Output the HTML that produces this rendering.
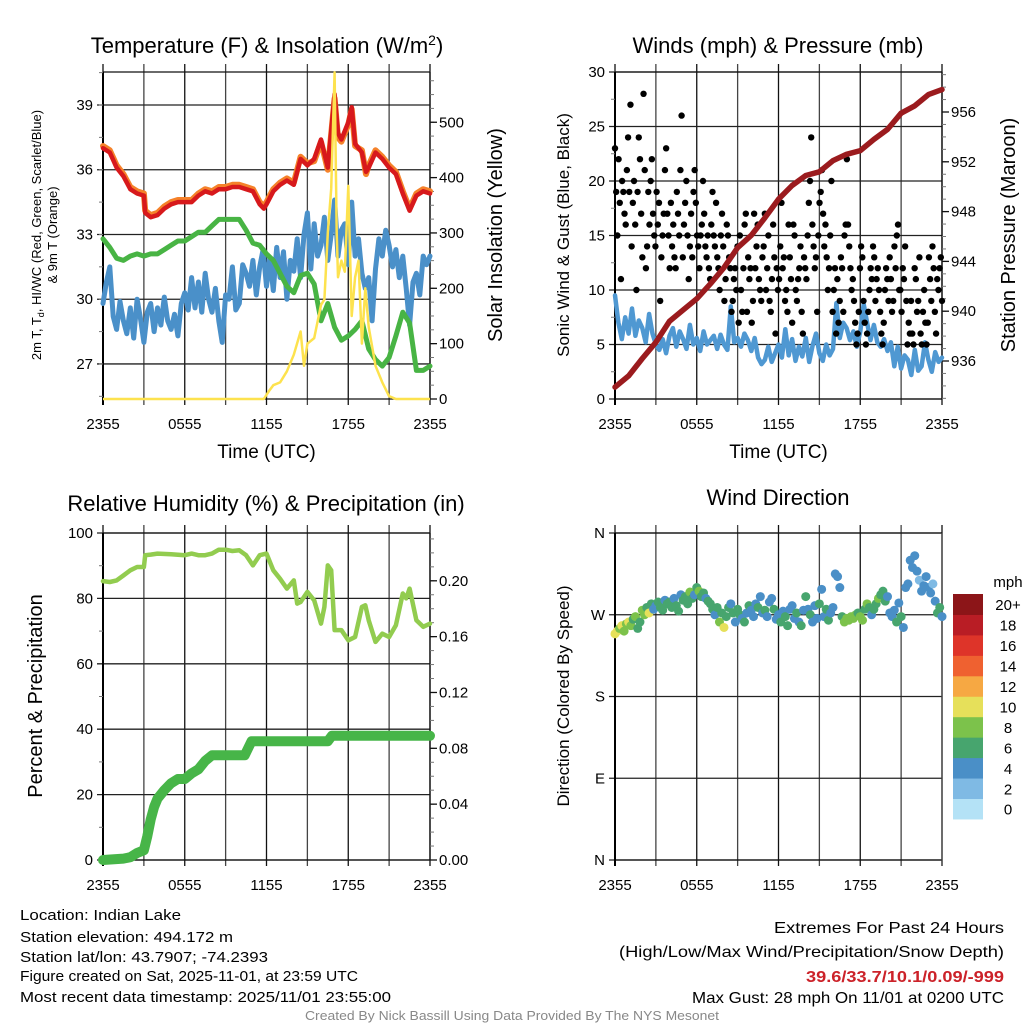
<!DOCTYPE html>
<html><head><meta charset="utf-8"><style>
html,body{margin:0;padding:0;background:#fff;}
svg{display:block;font-family:"Liberation Sans",sans-serif;}
</style></head><body>
<svg id="fig" width="1024" height="1024" viewBox="0 0 1024 1024">
<g id="g-tl"></g>
<g id="g-tr"></g>
<g id="g-bl"></g>
<g id="g-br"></g>
<text x="267" y="53" font-size="22" text-anchor="middle">Temperature (F) &amp; Insolation (W/m<tspan dy="-8" font-size="14">2</tspan><tspan dy="8">)</tspan></text>
<text x="778" y="53" font-size="22" text-anchor="middle">Winds (mph) &amp; Pressure (mb)</text>
<text x="266" y="511" font-size="22" text-anchor="middle">Relative Humidity (%) &amp; Precipitation (in)</text>
<text x="778" y="505" font-size="22" text-anchor="middle">Wind Direction</text>
<g font-size="15">
<text x="20" y="920" textLength="161" lengthAdjust="spacingAndGlyphs">Location: Indian Lake</text>
<text x="20" y="942" textLength="213" lengthAdjust="spacingAndGlyphs">Station elevation: 494.172 m</text>
<text x="20" y="962" textLength="248" lengthAdjust="spacingAndGlyphs">Station lat/lon: 43.7907; -74.2393</text>
<text x="20" y="981" textLength="338" lengthAdjust="spacingAndGlyphs">Figure created on Sat, 2025-11-01, at 23:59 UTC</text>
<text x="20" y="1002" textLength="371" lengthAdjust="spacingAndGlyphs">Most recent data timestamp: 2025/11/01 23:55:00</text>
</g>
<g font-size="16" text-anchor="end">
<text x="1004" y="933" textLength="230" lengthAdjust="spacingAndGlyphs">Extremes For Past 24 Hours</text>
<text x="1004" y="957" textLength="385" lengthAdjust="spacingAndGlyphs">(High/Low/Max Wind/Precipitation/Snow Depth)</text>
<text x="1004" y="982" font-weight="bold" fill="#cc2229" textLength="198" lengthAdjust="spacingAndGlyphs">39.6/33.7/10.1/0.09/-999</text>
<text x="1004" y="1003" textLength="312" lengthAdjust="spacingAndGlyphs">Max Gust: 28 mph On 11/01 at 0200 UTC</text>
</g>
<text x="512" y="1020" font-size="13" fill="#888" text-anchor="middle" textLength="414" lengthAdjust="spacingAndGlyphs">Created By Nick Bassill Using Data Provided By The NYS Mesonet</text>
</svg>
<script>
// ---- data ----
const timeTicks = [0,6,12,18,24];
const timeTickLabels = ["2355","0555","1155","1755","2355"];
const tempHours = [0,0.5,1,1.5,2,2.5,3,3.1,3.5,4,4.5,5,5.5,6,6.5,7,7.5,8,8.5,9,9.5,10,10.5,11,11.5,11.8,12,12.5,13,13.5,14,14.5,15,15.5,16,16.5,17,17.25,17.5,18,18.25,18.5,19,19.3,19.5,20,20.5,21,21.5,22,22.5,23,23.5,24];
const tempVals = [37.0,36.8,36.1,35.7,35.1,34.9,34.8,34.0,33.8,33.9,34.2,34.4,34.5,34.5,34.5,34.8,35.0,34.9,35.1,35.1,35.2,35.2,35.1,35.0,34.4,34.2,34.4,35.0,35.3,35.5,35.3,36.5,36.2,36.5,37.4,36.1,39.5,37.7,37.4,38.2,38.9,37.2,36.8,35.9,36.1,36.8,36.5,36.1,35.8,34.9,34.1,34.8,35.0,34.9];
const temp9mVals = [37.1,36.9,36.2,35.8,35.2,35.0,34.9,34.1,33.9,34.0,34.3,34.5,34.6,34.6,34.6,34.9,35.1,35.0,35.2,35.2,35.3,35.3,35.2,35.1,34.5,34.3,34.5,35.1,35.4,35.6,35.4,36.6,36.3,36.4,37.3,36.0,39.3,37.5,37.3,38.1,38.8,37.1,36.9,35.8,36.2,36.9,36.6,36.2,35.9,35.0,34.2,34.9,35.1,35.0];
const dewHours = [0,0.5,1,1.5,2,2.5,3,3.5,4,4.5,5,5.5,6,6.5,7,7.5,8,8.5,9,9.5,10,10.5,11,11.5,12,12.5,13,13.5,14,14.5,15,15.5,16,16.5,17,17.5,18,18.5,19,19.5,20,20.5,21,21.5,22,22.5,23,23.5,24];
const dewVals = [32.8,32.4,31.9,31.8,32.0,32.1,32.0,32.1,32.1,32.3,32.5,32.7,32.7,32.9,33.1,33.1,33.4,33.7,33.7,33.7,33.7,33.2,32.6,32.5,32.1,31.8,31.2,30.6,30.3,31.1,31.2,30.7,29.0,29.8,28.7,28.1,28.3,28.6,29.0,27.7,27.2,26.9,27.3,28.3,29.4,28.9,26.7,26.7,26.9];
const windChillVals = [29.8,30.8,31.5,29.2,28.6,29.9,29.0,28.4,29.6,28.2,30.0,29.1,28.0,29.4,29.8,28.5,29.6,28.8,30.1,29.0,28.6,29.3,28.3,29.8,30.3,29.5,31.0,29.6,30.8,29.4,31.2,30.0,29.4,30.5,29.0,28.0,30.2,30.0,31.5,29.5,29.8,31.6,31.2,30.6,31.8,30.2,31.5,32.3,30.6,31.9,30.4,32.4,31.0,32.2,30.0,31.8,31.3,32.8,31.0,33.0,34.0,31.4,33.5,32.0,32.5,33.8,31.8,33.0,34.6,32.0,33.2,33.5,31.6,34.5,32.0,32.8,31.2,30.5,31.0,29.0,31.4,32.8,32.0,33.2,32.5,31.5,32.3,31.0,32.0,30.5,28.8,30.8,31.2,30.2,32.0,31.6,32.0];
const solarHours = [0,11.8,12.2,12.5,13,13.5,14,14.5,14.75,15,15.5,16,16.25,16.5,16.75,17,17.15,17.25,17.5,17.75,18,18.25,18.5,18.75,19,19.25,19.5,20,20.5,21,21.5,24];
const solarVals = [0,0,15,25,30,50,80,122,60,100,110,170,180,300,380,590,300,220,250,230,385,150,220,250,100,200,130,60,30,5,0,0];
const tempTicks = [27,30,33,36,39];
const solarTicks = [0,100,200,300,400,500];

const windVals = [9.5,7.0,5.5,7.5,6.0,8.3,5.8,7.2,6.5,5.2,7.8,6.0,5.0,4.5,5.5,4.2,5.8,6.5,4.8,6.2,5.5,4.6,6.8,5.0,5.6,4.4,6.2,5.0,5.4,5.8,4.6,5.9,5.0,4.5,8.5,5.2,5.6,4.8,6.0,5.4,4.4,5.6,3.8,3.2,3.6,4.8,3.4,4.2,5.0,3.8,6.4,4.0,5.5,3.5,4.8,3.9,5.6,3.4,4.9,6.0,4.2,3.5,5.0,4.0,4.6,8.8,5.6,7.0,6.5,5.4,6.2,4.8,6.2,8.7,7.0,5.4,6.8,5.2,4.8,5.5,4.4,5.2,3.0,4.8,2.8,4.0,3.6,2.2,4.5,2.6,3.0,5.2,3.6,2.5,4.3,3.4,3.8];
const gustVals = [23,19,15,22,18,11,20,19,17,16,21,24,19,27,14,18,20,16,10,19,24,22,17,13,28,21,12,14,19,16,20,22,17,15,14,19,16,18,9,13,15,17,21,23,17,15,12,18,14,16,13,12,19,17,15,21,26,13,16,18,20,15,11,14,17,13,19,21,18,15,14,12,15,16,20,17,14,13,15,12,11,16,19,15,14,18,13,12,10,15,17,14,9,11,16,15,13,12,8,9,11,12,10,14,7,15,10,8,12,16,17,8,13,11,12,7,9,17,12,14,16,11,10,9,13,14,17,10,12,15,9,8,11,16,13,6,12,10,11,14,18,12,13,9,10,8,16,13,11,7,16,15,10,9,11,12,14,8,6,13,12,11,15,18,20,24,16,14,12,13,8,15,18,19,21,17,14,16,13,10,12,15,20,8,10,12,6,11,7,9,13,12,8,15,16,22,16,14,12,10,11,9,7,5,6,8,12,14,13,9,7,5,6,8,10,12,11,14,13,9,11,12,10,8,6,5,7,10,12,11,9,13,11,8,9,14,12,15,16,10,10,8,12,11,14,9,5,7,6,9,6,5,12,11,8,9,13,6,5,8,10,7,5,7,13,11,9,14,12,8,6,11,10,12,13,9];
const pressHours = [0,1,2,3,4,5,6,7,8,9,10,11,12,13,14,15,16,17,18,19,20,21,22,23,24];
const pressVals = [933.9,934.8,936.2,937.5,939.2,940.1,941.0,942.2,943.5,945.1,946.1,947.5,949.0,950.1,950.9,951.2,952.1,952.6,952.9,953.8,954.6,955.9,956.5,957.4,957.8];
const windTicks = [0,5,10,15,20,25,30];
const pressTicks = [936,940,944,948,952,956];

const rhHours = [0,0.5,1,1.5,2,2.5,3,3.1,3.5,4,5,6,6.5,7,7.5,8,8.5,9,9.5,10,10.5,11,11.5,12,12.5,13,13.5,14,14.25,14.5,15,15.5,16,16.25,16.5,16.75,17,17.5,18,18.5,19,19.25,19.5,20,20.5,21,21.5,22,22.25,22.5,23,23.5,24];
const rhVals = [85.3,85.0,85.5,87.0,88.6,89.6,89.6,93.2,93.4,93.7,93.5,93.2,93.7,93.2,93.2,93.7,94.9,94.9,94.5,94.7,93.2,90.1,93.2,93.7,88.6,86.0,83.0,85.5,78.4,78.9,82.0,79.4,72.3,77.4,90.1,88.6,70.3,70.3,67.2,68.2,77.4,77.9,73.3,66.7,69.2,68.2,71.8,81.5,80.0,83.0,73.3,71.3,72.3];
const precipHours = [0,1.5,2,2.5,3,3.25,3.5,3.75,4,4.5,5,5.5,6,6.5,7,7.5,8,10.4,10.9,16.5,16.8,24];
const precipVals = [0,0.001,0.002,0.005,0.007,0.017,0.029,0.038,0.044,0.050,0.055,0.058,0.058,0.062,0.065,0.071,0.075,0.075,0.085,0.085,0.089,0.089];
const rhTicks = [0,20,40,60,80,100];
const precipTicks = [0,0.04,0.08,0.12,0.16,0.20];
const precipTickLabels = ["0.00","0.04","0.08","0.12","0.16","0.20"];

const dirVals = [249,252,255,258,252,260,262,258,265,268,255,262,275,270,278,272,282,276,280,284,278,275,286,282,284,278,288,280,274,292,286,290,282,295,288,292,300,296,290,294,288,285,282,276,270,278,262,272,256,268,278,282,272,262,276,270,266,262,272,280,275,268,282,278,290,272,275,268,284,288,276,265,270,262,274,268,258,276,280,266,272,262,258,275,290,276,270,262,280,266,282,298,268,276,264,272,278,315,312,300,268,262,266,264,268,266,270,272,268,264,276,282,278,270,276,282,288,292,296,285,290,272,268,275,262,283,268,256,300,304,330,322,335,318,308,296,302,312,300,294,304,285,272,278,268];
const spdVals = [10,9,8,10,7,8,9,8,6,7,5,6,8,7,6,9,5,4,4,6,5,6,4,5,6,5,4,6,6,4,6,5,6,7,5,4,6,7,6,5,4,6,6,5,4,6,7,6,9,6,5,4,6,4,6,5,4,6,4,5,4,3,4,5,4,4,5,4,3,4,6,4,4,5,4,6,5,3,4,3,6,4,5,4,5,4,6,4,3,4,5,3,4,5,6,4,4,3,3,4,6,8,8,8,7,8,8,6,8,7,6,8,6,4,6,5,7,6,6,5,4,4,3,4,5,4,6,4,4,3,3,4,4,3,2,4,3,4,3,4,2,4,6,5,3];
const dirTicks = [0,90,180,270,360];
const dirTickLabels = ["N","E","S","W","N"];
const cbarLabels = ["0","2","4","6","8","10","12","14","16","18","20+"];
const cbarColors = ["#b4e2f6","#7fbae4","#4a8fc7","#47a56e","#7cc24b","#e6e05a","#f6a843","#ef6130","#de3429","#b91d25","#8c1518"];

// ---- helpers ----
const NS = "http://www.w3.org/2000/svg";
function mk(parent, tag, attrs, txt){
  const e = document.createElementNS(NS, tag);
  for (const k in attrs) e.setAttribute(k, attrs[k]);
  if (txt !== undefined) e.textContent = txt;
  parent.appendChild(e);
  return e;
}
function pathD(xs, ys){ return xs.map((x,i)=>(i?'L':'M')+x.toFixed(1)+' '+ys[i].toFixed(1)).join(' '); }
function evenHours(n){ const a=[]; for(let i=0;i<n;i++) a.push(i*24/(n-1)); return a; }

function frame(g, x0, x1, y0, y1, leftVals, leftY, leftLabels, xlabel){
  const sx = h => x0 + h/24*(x1-x0);
  for (let h=0; h<=24; h+=3){
    const l = mk(g,'line',{x1:sx(h),x2:sx(h),y1:y0-8,y2:y1+6,stroke:(h%6===0)?'#111':'#444','stroke-width':1.3});
    
    
  }
  leftVals.forEach((v,i)=>{
    const y = leftY(v);
    const l = mk(g,'line',{x1:x0-6,x2:x1,y1:y,y2:y,stroke:'#222','stroke-width':1.3});
    
    
    if (leftLabels){
      const t = mk(g,'text',{x:x0-10,y:y+5,'font-size':15,'text-anchor':'end'},leftLabels[i]);
      
      
    }
  });
  mk(g,'line',{x1:x0,x2:x1,y1:y0,y2:y0,stroke:'#111','stroke-width':1.3});
  mk(g,'line',{x1:x0,x2:x1,y1:y1,y2:y1,stroke:'#111','stroke-width':1.3});
  mk(g,'line',{x1:x0,x2:x0,y1:y0,y2:y1+6,stroke:'#000','stroke-width':2});
  timeTicks.forEach((h,i)=>{
    const t = mk(g,'text',{x:sx(h),y:y1+30,'font-size':15,'text-anchor':'middle'},timeTickLabels[i]);
    
    
  });
  if (xlabel){
    const t = mk(g,'text',{x:(x0+x1)/2,y:y1+59,'font-size':19,'text-anchor':'middle'},xlabel);
    
    
  }
  return sx;
}
function rightAxis(g, x1, y0, y1, ticks, yf, labels, minorStep, minorMin, minorMax){
  mk(g,'line',{x1:x1,x2:x1,y1:y0,y2:y1,stroke:'#111','stroke-width':1.3});
  for (let v=minorMin; v<=minorMax+1e-9; v+=minorStep){
    const y=yf(v); if (y<y0-0.5||y>y1+0.5) continue;
    mk(g,'line',{x1:x1,x2:x1+4,y1:y,y2:y,stroke:'#777','stroke-width':1});
  }
  ticks.forEach((v,i)=>{
    const y=yf(v);
    mk(g,'line',{x1:x1,x2:x1+7,y1:y,y2:y,stroke:'#111','stroke-width':1.3});
    const t = mk(g,'text',{x:x1+9,y:y+5,'font-size':15},labels[i]);
    
    
  });
}
function vlabel(g, x, y, size, txt, name){
  const t = mk(g,'text',{x:0,y:0,'font-size':size,'text-anchor':'middle',transform:`translate(${x},${y}) rotate(-90)`},txt);
  
  
  return t;
}

// ---- Panel TL: temperature ----
(function(){
  const g = document.getElementById('g-tl');
  const x0=103,x1=430,y0=72,y1=399;
  const yT = t => 105 + (39-t)*21.58;
  const yS = s => 399 - s*0.5535;
  const sx = frame(g,x0,x1,y0,y1,tempTicks,yT,tempTicks.map(String),'Time (UTC)');
  for (let v=25.5; v<=40.5; v+=1.5){ const y=yT(v); mk(g,'line',{x1:x0-4,x2:x0,y1:y,y2:y,stroke:'#777'}); }
  rightAxis(g,x1,y0,y1,solarTicks,yS,solarTicks.map(String),25,0,575);
  const wc = evenHours(windChillVals.length);
  let p;
  p = mk(g,'path',{d:pathD(wc.map(sx),windChillVals.map(yT)),fill:'none',stroke:'#4a90c9','stroke-width':5,'stroke-linejoin':'round','stroke-linecap':'round'});
  
  
  p = mk(g,'path',{d:pathD(dewHours.map(sx),dewVals.map(yT)),fill:'none',stroke:'#48b444','stroke-width':5,'stroke-linejoin':'round','stroke-linecap':'round'});
  
  
  p = mk(g,'path',{d:pathD(tempHours.map(sx),temp9mVals.map(yT)),fill:'none',stroke:'#f5822a','stroke-width':6,'stroke-linejoin':'round','stroke-linecap':'round'});
  
  
  p = mk(g,'path',{d:pathD(tempHours.map(sx),tempVals.map(yT)),fill:'none',stroke:'#d7191c','stroke-width':4.5,'stroke-linejoin':'round','stroke-linecap':'round'});
  
  
  p = mk(g,'path',{d:pathD(solarHours.map(sx),solarVals.map(v=>Math.max(yS(v),y0))),fill:'none',stroke:'#fde24e','stroke-width':2.5,'stroke-linejoin':'round'});
  
  
  const t = mk(g,'text',{x:0,y:0,'font-size':13,'text-anchor':'middle',transform:'translate(41,235) rotate(-90)'});
  t.innerHTML = '2m T, T<tspan font-size="9" dy="3">d</tspan><tspan dy="-3">, HI/WC (Red, Green, Scarlet/Blue)</tspan>';
  
  
  vlabel(g,57,235,13,'& 9m T (Orange)','temperature-y-title-2');
  vlabel(g,502,235,20,'Solar Insolation (Yellow)','solar-y-title');
})();

// ---- Panel TR: winds ----
(function(){
  const g = document.getElementById('g-tr');
  const x0=615,x1=942,y0=72,y1=399;
  const yW = w => 399 - w*10.9;
  const yP = p => 361 - (p-936)*12.45;
  const sx = frame(g,x0,x1,y0,y1,windTicks,yW,windTicks.map(String),'Time (UTC)');
  for (let v=2.5; v<=30; v+=5){ const y=yW(v); mk(g,'line',{x1:x0-4,x2:x0,y1:y,y2:y,stroke:'#777'}); }
  rightAxis(g,x1,y0,y1,pressTicks,yP,pressTicks.map(String),1,933,959);
  const wh = evenHours(windVals.length);
  let p = mk(g,'path',{d:pathD(wh.map(sx),windVals.map(yW)),fill:'none',stroke:'#4f98d2','stroke-width':4.5,'stroke-linejoin':'round','stroke-linecap':'round'});
  
  
  const gh = evenHours(gustVals.length);
  gustVals.forEach((v,i)=>{
    const c = mk(g,'circle',{cx:sx(gh[i]),cy:yW(v),r:3.2,fill:'#000'});
    
    
  });
  p = mk(g,'path',{d:pathD(pressHours.map(sx),pressVals.map(yP)),fill:'none',stroke:'#9b1b1e','stroke-width':5.5,'stroke-linejoin':'round','stroke-linecap':'round'});
  
  
  vlabel(g,569,235,17,'Sonic Wind & Gust (Blue, Black)','wind-y-title');
  vlabel(g,1015,235,20,'Station Pressure (Maroon)','pressure-y-title');
})();

// ---- Panel BL: humidity ----
(function(){
  const g = document.getElementById('g-bl');
  const x0=103,x1=430,y0=533,y1=860;
  const yR = r => 860 - r*3.27;
  const yPr = v => 860 - v*1396;
  const sx = frame(g,x0,x1,y0,y1,rhTicks,yR,rhTicks.map(String),null);
  for (let v=10; v<=100; v+=20){ const y=yR(v); mk(g,'line',{x1:x0-4,x2:x0,y1:y,y2:y,stroke:'#777'}); }
  rightAxis(g,x1,y0,y1,precipTicks,yPr,precipTickLabels,0.01,0,0.23);
  let p = mk(g,'path',{d:pathD(rhHours.map(sx),rhVals.map(yR)),fill:'none',stroke:'#92cc4f','stroke-width':4.5,'stroke-linejoin':'round','stroke-linecap':'round'});
  
  
  p = mk(g,'path',{d:pathD(precipHours.map(sx),precipVals.map(yPr)),fill:'none',stroke:'#47b548','stroke-width':10,'stroke-linejoin':'round','stroke-linecap':'round'});
  
  
  vlabel(g,42,696,20,'Percent & Precipitation','humidity-y-title');
})();

// ---- Panel BR: wind direction ----
(function(){
  const g = document.getElementById('g-br');
  const x0=615,x1=942,y0=533,y1=860;
  const yD = d => 860 - d*0.9083;
  const sx = frame(g,x0,x1,y0,y1,dirTicks,yD,dirTickLabels,null);
  mk(g,'line',{x1:x1,x2:x1,y1:y0,y2:y1+6,stroke:'#444','stroke-width':1.3});
  const dh = evenHours(dirVals.length);
  dirVals.forEach((d,i)=>{
    const idx = Math.min(10, Math.round(spdVals[i]/2));
    const c = mk(g,'circle',{cx:sx(dh[i]),cy:yD(d),r:4.5,fill:cbarColors[idx]});
    
    
  });
  vlabel(g,569,696,17,'Direction (Colored By Speed)','direction-y-title');
  const cb = mk(g,'g',{});
  
  
  const cy0=594, ch=20.45;
  cbarColors.forEach((c,i)=>{
    const y = cy0 + (10-i)*ch;
    const r = mk(cb,'rect',{x:953,y:y,width:30,height:ch+0.5,fill:c});
    
    
    const t = mk(cb,'text',{x:1008,y:y+ch/2+6,'font-size':15,'text-anchor':'middle'},cbarLabels[i]);
    
    
  });
  const u = mk(cb,'text',{x:1008,y:587,'font-size':15,'text-anchor':'middle'},'mph');
  
  
})();
</script>
</body></html>
